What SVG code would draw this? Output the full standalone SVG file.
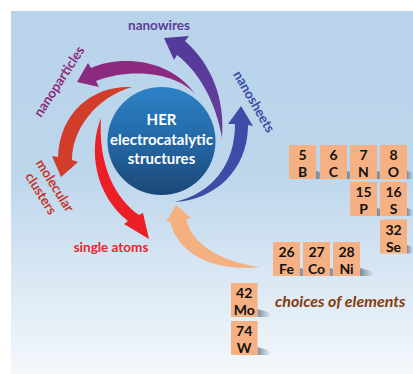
<svg xmlns="http://www.w3.org/2000/svg" width="413" height="374" viewBox="0 0 413 374">
<defs>
<linearGradient id="bg" x1="0" y1="0" x2="0" y2="1">
<stop offset="0" stop-color="#b8d3ea"/>
<stop offset="0.45" stop-color="#bdd6ec"/>
<stop offset="1" stop-color="#f4f8fb"/>
</linearGradient>
<linearGradient id="ball" x1="0" y1="0" x2="0" y2="1">
<stop offset="0" stop-color="#2c82c6"/>
<stop offset="0.5" stop-color="#2468a6"/>
<stop offset="1" stop-color="#1b4776"/>
</linearGradient>
<linearGradient id="shadow" x1="0" y1="0" x2="1" y2="0">
<stop offset="0" stop-color="#6f7d8c" stop-opacity="0.85"/>
<stop offset="1" stop-color="#6f7d8c" stop-opacity="0"/>
</linearGradient>
<linearGradient id="gWires" x1="0" y1="1" x2="0" y2="0">
<stop offset="0" stop-color="#6a3c98"/>
<stop offset="1" stop-color="#523a9c"/>
</linearGradient>
</defs>
<style>
.lbl{font-family:Lato,"Liberation Sans",sans-serif;font-weight:bold;font-size:13.5px}
.ctr{font-family:Lato,"Liberation Sans",sans-serif;font-weight:bold;font-size:15px;fill:#ffffff;text-anchor:middle}
.box rect{fill:#f5b183}
.box text{font-family:Lato,"Liberation Sans",sans-serif;font-weight:bold;font-size:14px;fill:#111111;text-anchor:middle}
.shd{fill:url(#shadow)}
</style>
<rect x="0" y="0" width="413" height="374" fill="#ffffff"/>
<rect x="11" y="11" width="402" height="363" fill="url(#bg)"/>

<g id="connectors">
<path id="arrow-nanowires" fill="url(#gWires)" d="M222,138 C225,100 213,66 185,41 L189,36 L164,38 L174,60 L177,55 C199,72 216,102 222,138 Z"/>
<path id="arrow-nanoparticles" fill="#8c2a7f" d="M195,94 C170,58 120,55 91,68 L88,63 L77,82 L99,87 L96,81 C130,68 175,72 195,94 Z"/>
<path id="arrow-molecular" fill="#d23c2a" d="M132,87 C95,85 60,110 58,157 L52,156 L61,177 L78,162 L72,160 C72,130 95,98 132,87 Z"/>
<path id="arrow-single" fill="#ec1f26" d="M101,118 C88,150 95,195 128,221 L124,224 L149,239 L143,213 L139,215 C115,198 98,165 101,118 Z"/>
<path id="arrow-nanosheets" fill="#3d4ca7" d="M175,202 C215,200 248,170 248,125 L253,126 L241,106 L228,124 L235,124 C235,165 212,193 175,202 Z"/>
<path id="arrow-elements" fill="#f5b07f" d="M260,267 C215,272 178,255 170,221 L166,222 L176,205 L191,218 L186,219 C192,245 222,262 260,267 Z"/>
</g>

<g id="node-center">
<circle cx="161.5" cy="141" r="54" fill="url(#ball)"/>
<text class="ctr" x="161.5" y="125">HER</text>
<text class="ctr" x="161.5" y="144.5">electrocatalytic</text>
<text class="ctr" x="161.5" y="164">structures</text>
</g>

<g id="label-nanowires"><text class="lbl" x="159" y="30" fill="#5b3d9a" text-anchor="middle">nanowires</text></g>
<g id="label-nanoparticles"><text class="lbl" transform="translate(63,84) rotate(-57)" fill="#8b2a7c" text-anchor="middle">nanoparticles</text></g>
<g id="label-nanosheets"><text class="lbl" transform="translate(250,104) rotate(60)" fill="#3b4ba5" text-anchor="middle">nanosheets</text></g>
<g id="label-molecular-clusters">
<text class="lbl" transform="translate(51,188) rotate(58)" fill="#c8352b" text-anchor="middle">molecular</text>
<text class="lbl" transform="translate(37,196) rotate(58)" fill="#c8352b" text-anchor="middle">clusters</text>
</g>
<g id="label-single-atoms"><text class="lbl" x="111" y="252" fill="#e8262b" text-anchor="middle">single atoms</text></g>
<g id="label-choices"><text x="275" y="307" font-family="Lato, 'Liberation Sans', sans-serif" font-weight="bold" font-style="italic" font-size="16" fill="#843c0c">choices of elements</text></g>

<g id="el-B" class="box"><polygon class="shd" points="316,171 330,175 328,179 316,179"/><rect x="289" y="145" width="27" height="34"/><text x="302.5" y="160">5</text><text x="302.5" y="177">B</text></g>
<g id="el-C" class="box"><polygon class="shd" points="347,171 361,175 359,179 347,179"/><rect x="320" y="145" width="27" height="34"/><text x="333.5" y="160">6</text><text x="333.5" y="177">C</text></g>
<g id="el-N" class="box"><polygon class="shd" points="377,171 391,175 389,179 377,179"/><rect x="350" y="145" width="27" height="34"/><text x="363.5" y="160">7</text><text x="363.5" y="177">N</text></g>
<g id="el-O" class="box"><polygon class="shd" points="407,171 413,173 413,179 407,179"/><rect x="380" y="145" width="27" height="34"/><text x="393.5" y="160">8</text><text x="393.5" y="177">O</text></g>
<g id="el-P" class="box"><polygon class="shd" points="377,208 391,212 389,216 377,216"/><rect x="350" y="182" width="27" height="34"/><text x="363.5" y="197">15</text><text x="363.5" y="214">P</text></g>
<g id="el-S" class="box"><polygon class="shd" points="407,208 413,210 413,216 407,216"/><rect x="380" y="182" width="27" height="34"/><text x="393.5" y="197">16</text><text x="393.5" y="214">S</text></g>
<g id="el-Se" class="box"><polygon class="shd" points="407,245 413,247 413,253.5 407,253.5"/><rect x="380" y="219.5" width="27" height="34"/><text x="393.5" y="234.5">32</text><text x="393.5" y="251.5">Se</text></g>
<g id="el-Fe" class="box"><polygon class="shd" points="300,268 314,272 312,276 300,276"/><rect x="273" y="242" width="27" height="34"/><text x="286.5" y="257">26</text><text x="286.5" y="274">Fe</text></g>
<g id="el-Co" class="box"><polygon class="shd" points="330,268 344,272 342,276 330,276"/><rect x="303" y="242" width="27" height="34"/><text x="316.5" y="257">27</text><text x="316.5" y="274">Co</text></g>
<g id="el-Ni" class="box"><polygon class="shd" points="360,268 374,272 372,276 360,276"/><rect x="333" y="242" width="27" height="34"/><text x="346.5" y="257">28</text><text x="346.5" y="274">Ni</text></g>
<g id="el-Mo" class="box"><polygon class="shd" points="257.5,309 271,313 269,317 257.5,317"/><rect x="231" y="283" width="26.5" height="34"/><text x="244.2" y="298">42</text><text x="244.2" y="315">Mo</text></g>
<g id="el-W" class="box"><polygon class="shd" points="257.5,347 271,351 269,355 257.5,355"/><rect x="231" y="321" width="26.5" height="34"/><text x="244.2" y="336">74</text><text x="244.2" y="353">W</text></g>
</svg>
